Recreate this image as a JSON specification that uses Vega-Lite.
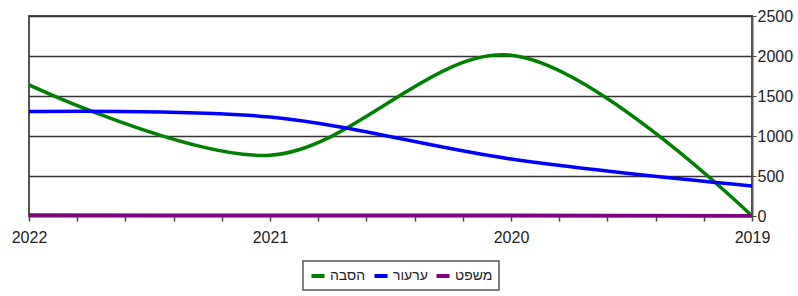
{
  "$schema": "https://vega.github.io/schema/vega-lite/v6.json",
  "width": 723,
  "height": 200,
  "autosize": {"type": "none"},
  "padding": {"left": 29, "top": 16, "right": 46, "bottom": 80},
  "background": "white",
  "config": {
    "font": "Liberation Sans",
    "view": {"stroke": "#555", "strokeWidth": 2},
    "axis": {"labelFont": "Liberation Sans", "labelFontSize": 16, "labelColor": "#222", "title": null},
    "legend": {"strokeColor": "#555", "strokeWidth": 1.5}
  },
  "data": {"values": [
    {"year": 2022, "series": "הסבה", "value": 1640},
    {"year": 2021, "series": "הסבה", "value": 760},
    {"year": 2020, "series": "הסבה", "value": 2010},
    {"year": 2019, "series": "הסבה", "value": 0},
    {"year": 2022, "series": "ערעור", "value": 1305},
    {"year": 2021, "series": "ערעור", "value": 1237},
    {"year": 2020, "series": "ערעור", "value": 712},
    {"year": 2019, "series": "ערעור", "value": 375},
    {"year": 2022, "series": "משפט", "value": 12},
    {"year": 2021, "series": "משפט", "value": 10},
    {"year": 2020, "series": "משפט", "value": 8},
    {"year": 2019, "series": "משפט", "value": 2}
  ]},
  "mark": {"type": "line", "interpolate": "catmull-rom", "strokeWidth": 3.5},
  "encoding": {
    "x": {
      "field": "year", "type": "quantitative",
      "scale": {"domain": [2022, 2019], "nice": false, "zero": false},
      "axis": {
        "values": [2019, 2019.2, 2019.4, 2019.6, 2019.8, 2020, 2020.2, 2020.4, 2020.6, 2020.8, 2021, 2021.2, 2021.4, 2021.6, 2021.8, 2022],
        "labelExpr": "datum.value % 1 == 0 ? format(datum.value, 'd') : ''",
        "grid": false, "domain": true, "domainColor": "#555", "domainWidth": 2,
        "tickColor": "#444", "tickSize": 5, "tickWidth": 1.5, "labelPadding": 8, "labelFlush": false
      }
    },
    "y": {
      "field": "value", "type": "quantitative",
      "scale": {"domain": [0, 2500], "nice": false},
      "axis": {
        "orient": "right", "values": [0, 500, 1000, 1500, 2000, 2500], "format": "d",
        "grid": true, "gridColor": "#333", "gridWidth": 1.5,
        "domainColor": "#555", "domainWidth": 2, "tickColor": "#444", "tickSize": 4, "labelPadding": 1
      }
    },
    "color": {
      "field": "series", "type": "nominal",
      "scale": {"domain": ["הסבה", "ערעור", "משפט"], "range": ["#008000", "#0000FF", "#800080"]},
      "legend": {
        "orient": "none", "legendX": 274, "legendY": 245,
        "direction": "horizontal", "title": null,
        "symbolType": "stroke", "symbolStrokeWidth": 4, "symbolSize": 170,
        "labelFontSize": 14, "labelFont": "Liberation Sans", "labelColor": "#222", "labelOffset": 3,
        "strokeColor": "#555", "padding": 6, "columnPadding": 0, "symbolOffset": 0
      }
    }
  }
}
